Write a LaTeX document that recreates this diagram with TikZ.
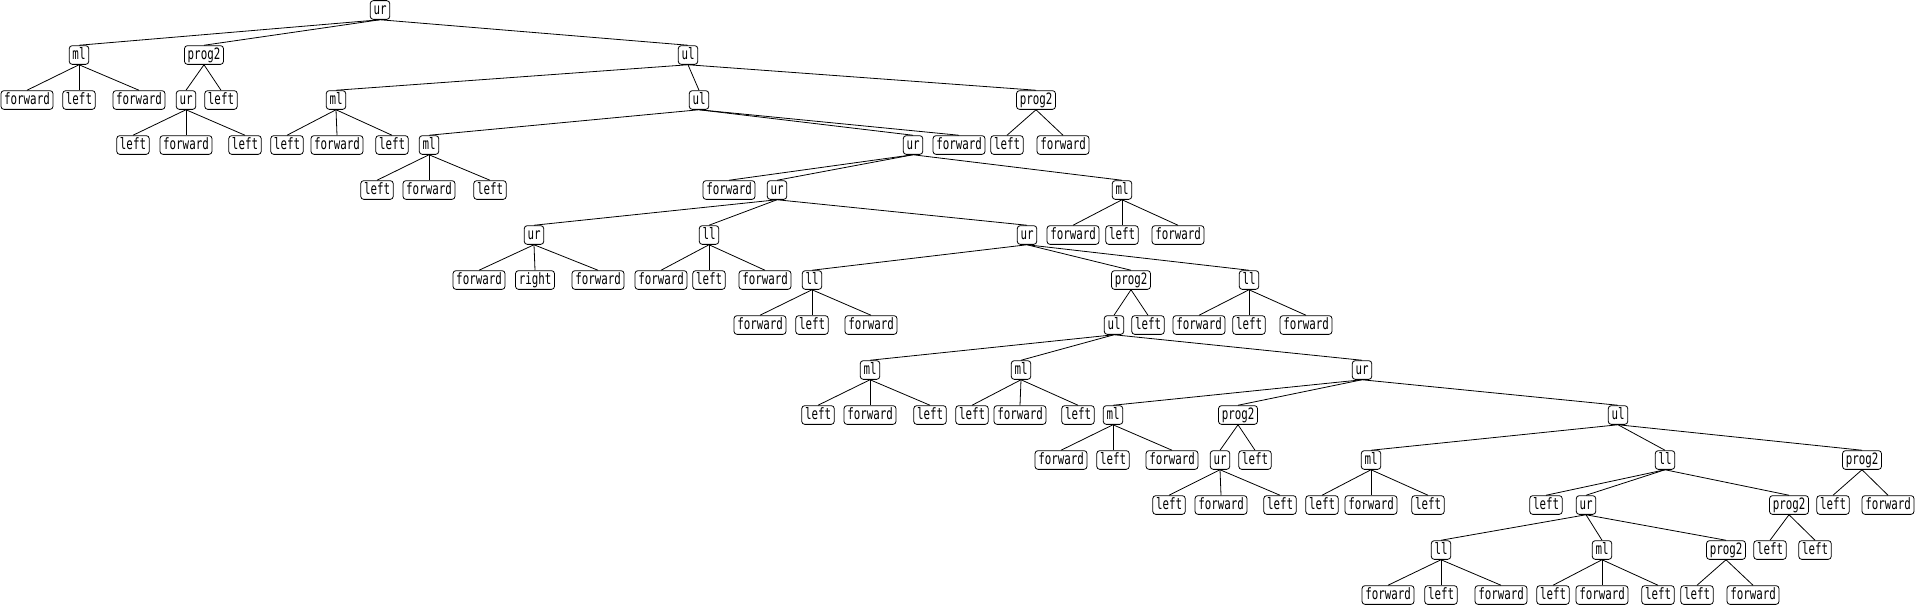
\documentclass[tikz,border=0pt]{standalone}
\usepackage{graphicx}
\usepackage{fontspec}
\setmonofont{DejaVu Sans Mono}
\newcommand\tallt[1]{\scalebox{1}[1.45]{#1}}
\tikzset{
 op/.style={draw,rounded corners=3pt,line width=0.8pt,inner xsep=3.25pt,inner ysep=1.6pt,
  text height=12pt,text depth=3.5pt,font=\fontsize{10.8}{12}\selectfont\ttfamily},
 link/.style={line width=0.8pt}
}
\begin{document}
\begin{tikzpicture}[x=1pt,y=-1pt,line join=round]
 \useasboundingbox (0,0) rectangle (1916,605);
 \node[op] (n0-1) at (380,10) {\tallt{ur}};
 \foreach \i/\x/\t in {1/79/ml,2/204/prog2,3/688/ul}
  \node[op] (n1-\i) at (\x,55) {\tallt{\t}};
 \foreach \i/\x/\t in {1/27/forward,2/79/left,3/139/forward,4/186/ur,5/221/left,6/336/ml,7/699/ul,8/1036/prog2}
  \node[op] (n2-\i) at (\x,100) {\tallt{\t}};
 \foreach \i/\x/\t in {1/133/left,2/186/forward,3/245/left,4/287/left,5/337/forward,6/392/left,7/429/ml,
  8/913/ur,9/959/forward,10/1007/left,11/1063/forward}
  \node[op] (n3-\i) at (\x,145) {\tallt{\t}};
 \foreach \i/\x/\t in {1/377/left,2/429/forward,3/490/left,4/729/forward,5/777/ur,6/1122/ml}
  \node[op] (n4-\i) at (\x,190) {\tallt{\t}};
 \foreach \i/\x/\t in {1/534/ur,2/709/ll,3/1027/ur,4/1073/forward,5/1122/left,6/1178/forward}
  \node[op] (n5-\i) at (\x,235) {\tallt{\t}};
 \foreach \i/\x/\t in {1/479/forward,2/535/right,3/598/forward,4/661/forward,5/709/left,6/765/forward,
  7/812/ll,8/1131/prog2,9/1249/ll}
  \node[op] (n6-\i) at (\x,280) {\tallt{\t}};
 \foreach \i/\x/\t in {1/760/forward,2/812/left,3/871/forward,4/1114/ul,5/1148/left,6/1199/forward,
  7/1249/left,8/1306/forward}
  \node[op] (n7-\i) at (\x,325) {\tallt{\t}};
 \foreach \i/\x/\t in {1/870/ml,2/1021/ml,3/1362/ur}
  \node[op] (n8-\i) at (\x,370) {\tallt{\t}};
 \foreach \i/\x/\t in {1/818/left,2/870/forward,3/930/left,4/972/left,5/1020/forward,6/1078/left,
  7/1113/ml,8/1238/prog2,9/1618/ul}
  \node[op] (n9-\i) at (\x,415) {\tallt{\t}};
 \foreach \i/\x/\t in {1/1061/forward,2/1113/left,3/1172/forward,4/1220/ur,5/1255/left,6/1371/ml,
  7/1665/ll,8/1862/prog2}
  \node[op] (n10-\i) at (\x,460) {\tallt{\t}};
 \foreach \i/\x/\t in {1/1169/left,2/1221/forward,3/1280/left,4/1322/left,5/1371/forward,6/1428/left,
  7/1546/left,8/1586/ur,9/1789/prog2,10/1833/left,11/1888/forward}
  \node[op] (n11-\i) at (\x,505) {\tallt{\t}};
 \foreach \i/\x/\t in {1/1441/ll,2/1602/ml,3/1726/prog2,4/1770/left,5/1815/left}
  \node[op] (n12-\i) at (\x,550) {\tallt{\t}};
 \foreach \i/\x/\t in {1/1388/forward,2/1441/left,3/1501/forward,4/1553/left,5/1602/forward,
  6/1658/left,7/1697/left,8/1753/forward}
  \node[op] (n13-\i) at (\x,595) {\tallt{\t}};
 % parent/child
 \foreach \p/\c in {0-1/1-1,0-1/1-2,0-1/1-3,
  1-1/2-1,1-1/2-2,1-1/2-3, 1-2/2-4,1-2/2-5, 1-3/2-6,1-3/2-7,1-3/2-8,
  2-4/3-1,2-4/3-2,2-4/3-3, 2-6/3-4,2-6/3-5,2-6/3-6, 2-7/3-7,2-7/3-8,2-7/3-9, 2-8/3-10,2-8/3-11,
  3-7/4-1,3-7/4-2,3-7/4-3, 3-8/4-4,3-8/4-5,3-8/4-6,
  4-5/5-1,4-5/5-2,4-5/5-3, 4-6/5-4,4-6/5-5,4-6/5-6,
  5-1/6-1,5-1/6-2,5-1/6-3, 5-2/6-4,5-2/6-5,5-2/6-6, 5-3/6-7,5-3/6-8,5-3/6-9,
  6-7/7-1,6-7/7-2,6-7/7-3, 6-8/7-4,6-8/7-5, 6-9/7-6,6-9/7-7,6-9/7-8,
  7-4/8-1,7-4/8-2,7-4/8-3,
  8-1/9-1,8-1/9-2,8-1/9-3, 8-2/9-4,8-2/9-5,8-2/9-6, 8-3/9-7,8-3/9-8,8-3/9-9,
  9-7/10-1,9-7/10-2,9-7/10-3, 9-8/10-4,9-8/10-5, 9-9/10-6,9-9/10-7,9-9/10-8,
  10-4/11-1,10-4/11-2,10-4/11-3, 10-6/11-4,10-6/11-5,10-6/11-6,
  10-7/11-7,10-7/11-8,10-7/11-9, 10-8/11-10,10-8/11-11,
  11-8/12-1,11-8/12-2,11-8/12-3, 11-9/12-4,11-9/12-5,
  12-1/13-1,12-1/13-2,12-1/13-3, 12-2/13-4,12-2/13-5,12-2/13-6, 12-3/13-7,12-3/13-8}
  \draw[link] (n\p.south) -- (n\c.north);
\end{tikzpicture}
\end{document}
